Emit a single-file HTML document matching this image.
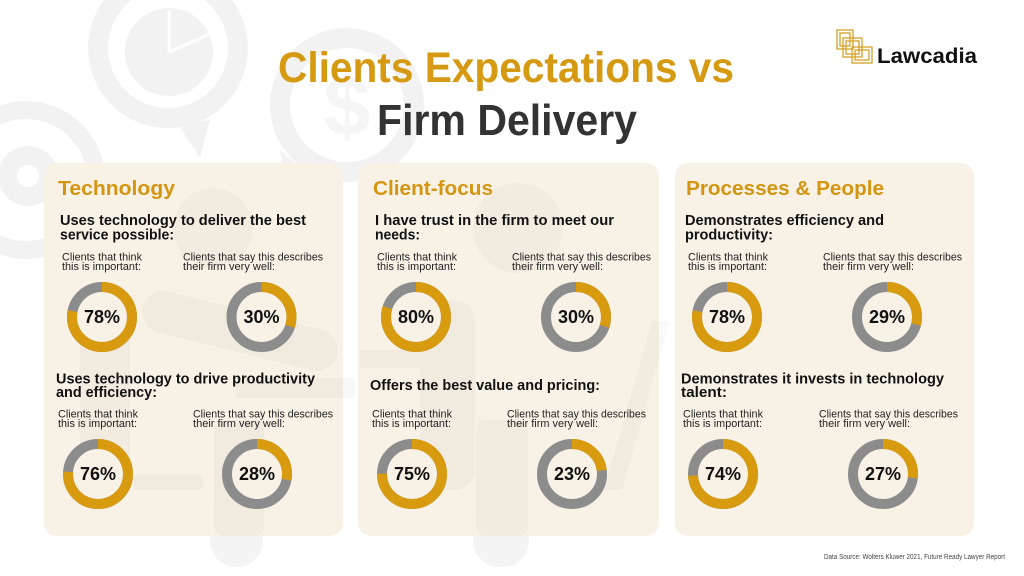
<!DOCTYPE html>
<html>
<head>
<meta charset="utf-8">
<style>
html,body{margin:0;padding:0;background:#fff;}
svg{display:block;}
text{font-family:"Liberation Sans",Arial,sans-serif;}
.b{font-weight:bold;}
</style>
</head>
<body>
<svg width="1024" height="576" viewBox="0 0 1024 576" xmlns="http://www.w3.org/2000/svg">
<rect width="1024" height="576" fill="#ffffff"/>

<!-- background watermarks on white -->
<g fill="none" stroke="#f2f2f2">
  <circle cx="168" cy="48" r="70" stroke-width="20"/>
  <circle cx="347" cy="105" r="67" stroke-width="20"/>
  <circle cx="26" cy="180" r="70" stroke-width="18"/>
</g>
<g fill="#f2f2f2">
  <circle cx="169" cy="52" r="44"/>
  <polygon points="178,124 210,120 200,158"/>
  <polygon points="280,150 300,168 286,190"/>
  <circle cx="28" cy="176" r="30"/>
  <text x="347" y="135" font-size="84" text-anchor="middle" class="b" fill="#f5f5f5">$</text>
</g>
<g stroke="#ffffff" stroke-width="3">
  <line x1="169" y1="52" x2="169" y2="10"/>
  <line x1="169" y1="52" x2="210" y2="34"/>
</g>
<circle cx="28" cy="176" r="11" fill="#ffffff"/>
<!-- legs below panels -->
<g fill="#f4f4f4">
  <rect x="210" y="480" width="53" height="87" rx="26"/>
  <rect x="473" y="480" width="56" height="87" rx="26"/>
</g>

<!-- panels -->
<g fill="#f8f2e6">
  <rect x="44" y="163" width="299" height="373" rx="13"/>
  <rect x="358" y="163" width="301" height="373" rx="13"/>
  <rect x="675" y="163" width="299" height="373" rx="13"/>
</g>

<!-- faint watermarks inside panels -->
<g fill="#000" opacity="0.022">
  <circle cx="213" cy="228" r="40"/>
  <circle cx="518" cy="228" r="45"/>
  <rect x="140" y="310" width="200" height="42" rx="21" transform="rotate(14 240 331)"/>
  <rect x="235" y="378" width="120" height="20" rx="4"/>
  <rect x="360" y="350" width="85" height="18" rx="3"/>
  <rect x="133" y="475" width="70" height="15" rx="4"/>
  <rect x="80" y="300" width="50" height="200" rx="20"/>
  <rect x="420" y="300" width="55" height="190" rx="20"/>
  <polygon points="652,321 670,321 622,490 604,490"/>
  <rect x="214" y="420" width="50" height="116" rx="10"/>
  <rect x="476" y="420" width="52" height="116" rx="10"/>
</g>

<!-- title -->
<text x="278" y="82" font-size="43" class="b" fill="#d69a12" textLength="456" lengthAdjust="spacingAndGlyphs">Clients Expectations vs</text>
<text x="377" y="135" font-size="44" class="b" fill="#333333" textLength="260" lengthAdjust="spacingAndGlyphs">Firm Delivery</text>

<!-- logo -->
<g fill="none" stroke="#d6a02a" stroke-width="1.3">
  <rect x="837" y="30" width="16" height="19"/>
  <rect x="840" y="33" width="10" height="13"/>
  <rect x="843" y="38" width="19" height="19"/>
  <rect x="846" y="41" width="13" height="13"/>
  <rect x="852" y="47" width="20" height="16"/>
  <rect x="855" y="50" width="14" height="10"/>
</g>
<text x="877" y="63" font-size="21" class="b" fill="#111" textLength="100" lengthAdjust="spacingAndGlyphs">Lawcadia</text>

<!-- panel headers -->
<g font-size="20" class="b" fill="#d49510">
  <text x="58" y="195" textLength="117" lengthAdjust="spacingAndGlyphs">Technology</text>
  <text x="373" y="195" textLength="120" lengthAdjust="spacingAndGlyphs">Client-focus</text>
  <text x="686" y="195" textLength="198" lengthAdjust="spacingAndGlyphs">Processes &amp; People</text>
</g>

<!-- questions -->
<g font-size="14.5" class="b" fill="#111">
  <text x="60" y="225" textLength="246" lengthAdjust="spacingAndGlyphs">Uses technology to deliver the best</text>
  <text x="60" y="239.5" textLength="114" lengthAdjust="spacingAndGlyphs">service possible:</text>
  <text x="375" y="225" textLength="239" lengthAdjust="spacingAndGlyphs">I have trust in the firm to meet our</text>
  <text x="375" y="239.5" textLength="45" lengthAdjust="spacingAndGlyphs">needs:</text>
  <text x="685" y="225" textLength="199" lengthAdjust="spacingAndGlyphs">Demonstrates efficiency and</text>
  <text x="685" y="239.5" textLength="88" lengthAdjust="spacingAndGlyphs">productivity:</text>

  <text x="56" y="383.5" textLength="259" lengthAdjust="spacingAndGlyphs">Uses technology to drive productivity</text>
  <text x="56" y="397" textLength="101" lengthAdjust="spacingAndGlyphs">and efficiency:</text>
  <text x="370" y="390" textLength="230" lengthAdjust="spacingAndGlyphs">Offers the best value and pricing:</text>
  <text x="681" y="383.5" textLength="263" lengthAdjust="spacingAndGlyphs">Demonstrates it invests in technology</text>
  <text x="681" y="397" textLength="46" lengthAdjust="spacingAndGlyphs">talent:</text>
</g>

<!-- sub labels -->
<g font-size="11" fill="#222">
  <text x="62" y="260.5" textLength="80" lengthAdjust="spacingAndGlyphs">Clients that think</text>
  <text x="62" y="270" textLength="79" lengthAdjust="spacingAndGlyphs">this is important:</text>
  <text x="183" y="260.5" textLength="140" lengthAdjust="spacingAndGlyphs">Clients that say this describes</text>
  <text x="183" y="270" textLength="92" lengthAdjust="spacingAndGlyphs">their firm very well:</text>

  <text x="377" y="260.5" textLength="80" lengthAdjust="spacingAndGlyphs">Clients that think</text>
  <text x="377" y="270" textLength="79" lengthAdjust="spacingAndGlyphs">this is important:</text>
  <text x="512" y="260.5" textLength="139" lengthAdjust="spacingAndGlyphs">Clients that say this describes</text>
  <text x="512" y="270" textLength="91" lengthAdjust="spacingAndGlyphs">their firm very well:</text>

  <text x="688" y="260.5" textLength="80" lengthAdjust="spacingAndGlyphs">Clients that think</text>
  <text x="688" y="270" textLength="79" lengthAdjust="spacingAndGlyphs">this is important:</text>
  <text x="823" y="260.5" textLength="139" lengthAdjust="spacingAndGlyphs">Clients that say this describes</text>
  <text x="823" y="270" textLength="91" lengthAdjust="spacingAndGlyphs">their firm very well:</text>

  <text x="58" y="417.5" textLength="80" lengthAdjust="spacingAndGlyphs">Clients that think</text>
  <text x="58" y="427" textLength="79" lengthAdjust="spacingAndGlyphs">this is important:</text>
  <text x="193" y="417.5" textLength="140" lengthAdjust="spacingAndGlyphs">Clients that say this describes</text>
  <text x="193" y="427" textLength="92" lengthAdjust="spacingAndGlyphs">their firm very well:</text>

  <text x="372" y="417.5" textLength="80" lengthAdjust="spacingAndGlyphs">Clients that think</text>
  <text x="372" y="427" textLength="79" lengthAdjust="spacingAndGlyphs">this is important:</text>
  <text x="507" y="417.5" textLength="139" lengthAdjust="spacingAndGlyphs">Clients that say this describes</text>
  <text x="507" y="427" textLength="91" lengthAdjust="spacingAndGlyphs">their firm very well:</text>

  <text x="683" y="417.5" textLength="80" lengthAdjust="spacingAndGlyphs">Clients that think</text>
  <text x="683" y="427" textLength="79" lengthAdjust="spacingAndGlyphs">this is important:</text>
  <text x="819" y="417.5" textLength="139" lengthAdjust="spacingAndGlyphs">Clients that say this describes</text>
  <text x="819" y="427" textLength="91" lengthAdjust="spacingAndGlyphs">their firm very well:</text>
</g>

<!-- donuts: circumference r=30 => 188.5 -->
<g fill="#f8f2e6" stroke-width="10">
  <circle cx="102" cy="317" r="30" stroke="#8c8c8c"/>
  <circle cx="102" cy="317" r="30" stroke="#d89b0f" fill="none" stroke-dasharray="147.0 188.5" transform="rotate(-90 102 317)"/>
  <circle cx="261.5" cy="317" r="30" stroke="#8c8c8c"/>
  <circle cx="261.5" cy="317" r="30" stroke="#d89b0f" fill="none" stroke-dasharray="56.55 188.5" transform="rotate(-90 261.5 317)"/>
  <circle cx="416" cy="317" r="30" stroke="#8c8c8c"/>
  <circle cx="416" cy="317" r="30" stroke="#d89b0f" fill="none" stroke-dasharray="150.8 188.5" transform="rotate(-90 416 317)"/>
  <circle cx="576" cy="317" r="30" stroke="#8c8c8c"/>
  <circle cx="576" cy="317" r="30" stroke="#d89b0f" fill="none" stroke-dasharray="56.55 188.5" transform="rotate(-90 576 317)"/>
  <circle cx="727" cy="317" r="30" stroke="#8c8c8c"/>
  <circle cx="727" cy="317" r="30" stroke="#d89b0f" fill="none" stroke-dasharray="147.0 188.5" transform="rotate(-90 727 317)"/>
  <circle cx="887" cy="317" r="30" stroke="#8c8c8c"/>
  <circle cx="887" cy="317" r="30" stroke="#d89b0f" fill="none" stroke-dasharray="54.7 188.5" transform="rotate(-90 887 317)"/>
  <circle cx="98" cy="474" r="30" stroke="#8c8c8c"/>
  <circle cx="98" cy="474" r="30" stroke="#d89b0f" fill="none" stroke-dasharray="143.3 188.5" transform="rotate(-90 98 474)"/>
  <circle cx="257" cy="474" r="30" stroke="#8c8c8c"/>
  <circle cx="257" cy="474" r="30" stroke="#d89b0f" fill="none" stroke-dasharray="52.8 188.5" transform="rotate(-90 257 474)"/>
  <circle cx="412" cy="474" r="30" stroke="#8c8c8c"/>
  <circle cx="412" cy="474" r="30" stroke="#d89b0f" fill="none" stroke-dasharray="141.4 188.5" transform="rotate(-90 412 474)"/>
  <circle cx="572" cy="474" r="30" stroke="#8c8c8c"/>
  <circle cx="572" cy="474" r="30" stroke="#d89b0f" fill="none" stroke-dasharray="43.4 188.5" transform="rotate(-90 572 474)"/>
  <circle cx="723" cy="474" r="30" stroke="#8c8c8c"/>
  <circle cx="723" cy="474" r="30" stroke="#d89b0f" fill="none" stroke-dasharray="139.5 188.5" transform="rotate(-90 723 474)"/>
  <circle cx="883" cy="474" r="30" stroke="#8c8c8c"/>
  <circle cx="883" cy="474" r="30" stroke="#d89b0f" fill="none" stroke-dasharray="50.9 188.5" transform="rotate(-90 883 474)"/>
</g>

<!-- percentages -->
<g font-size="18" class="b" fill="#111" text-anchor="middle">
  <text x="102" y="323">78%</text>
  <text x="261.5" y="323">30%</text>
  <text x="416" y="323">80%</text>
  <text x="576" y="323">30%</text>
  <text x="727" y="323">78%</text>
  <text x="887" y="323">29%</text>
  <text x="98" y="480">76%</text>
  <text x="257" y="480">28%</text>
  <text x="412" y="480">75%</text>
  <text x="572" y="480">23%</text>
  <text x="723" y="480">74%</text>
  <text x="883" y="480">27%</text>
</g>

<!-- source -->
<text x="824" y="559" font-size="7" fill="#444" textLength="181" lengthAdjust="spacingAndGlyphs">Data Source: Wolters Kluwer 2021, Future Ready Lawyer Report</text>
</svg>
</body>
</html>
